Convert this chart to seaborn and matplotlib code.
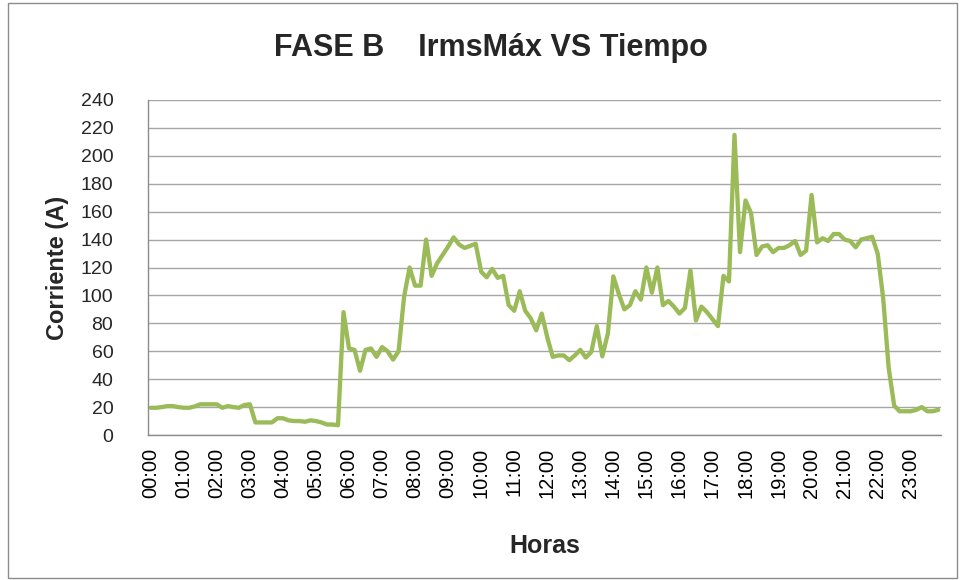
import matplotlib
matplotlib.use("Agg")
import matplotlib.pyplot as plt
from matplotlib.patches import Rectangle
import seaborn as sns
import pandas as pd
import numpy as np

# Irms max of phase B, one reading every 10 minutes (144 per day)
hours = [f"{h:02d}:00" for h in range(24)]
corriente = [
    19.5, 19.5, 20, 20.7, 20.7, 20,
    19.5, 19.5, 20.5, 22, 22, 22,
    22, 19.5, 20.7, 20, 19.5, 21.5,
    22, 9, 9, 9, 9, 12,
    12, 10.5, 10, 10, 9.5, 10.5,
    10, 9, 7.5, 7.5, 7, 88,
    62, 61, 46, 61, 62, 56,
    63, 60, 54, 60, 99, 120,
    107, 107, 140, 114, 123, 129,
    135, 141.6, 136.4, 134, 135.5, 137,
    117, 113, 119, 112.6, 114, 93,
    89, 103, 89, 83.6, 75, 87,
    70, 56, 57, 57, 53.6, 57,
    61, 55.5, 59.5, 78, 56.4, 72.6,
    113.6, 101, 90, 93, 103, 97,
    120, 102, 120, 93, 96, 92,
    87, 91, 118, 82, 92, 88,
    83, 78, 114, 110, 215, 131,
    168, 159, 129, 135, 136, 131,
    134, 134, 136, 139, 129, 132,
    172, 138, 141, 139, 144, 144,
    140, 139, 134.5, 140, 141, 142,
    130, 98, 48, 21, 17, 17,
    17, 18, 20, 17, 17, 18,
]

df = pd.DataFrame({"idx": np.arange(len(corriente)), "Corriente": corriente})

sns.set_theme(style="white")
plt.rcParams["font.family"] = ["Liberation Sans", "DejaVu Sans"]

fig = plt.figure(figsize=(9.61, 5.80), dpi=100)
ax = fig.add_axes([148 / 961, 1 - 435 / 580, 793 / 961, 335 / 580])

sns.lineplot(data=df, x="idx", y="Corriente", ax=ax, color="#9BBB59", linewidth=3.1)

ax.set_xlim(-0.5, len(corriente) - 0.5)
ax.set_ylim(0, 240)
ax.set_yticks(range(0, 241, 20))
ax.yaxis.grid(True, color="#A6A6A6", linewidth=1)
ax.set_axisbelow(True)

ax.set_xticks(np.arange(0, 144, 6))
ax.set_xticklabels(hours, rotation=90)
ax.set_xticks(np.arange(-0.5, 144, 1), minor=True)
ax.tick_params(axis="x", which="major", length=0, labelsize=14.5, pad=9, colors="black")
ax.tick_params(axis="x", which="minor", length=5, width=0.8, color="#8C8C8C", direction="out")
ax.tick_params(axis="y", length=5, width=0.8, color="#8C8C8C", labelsize=14, direction="out", pad=20)

for s in ["top", "right"]:
    ax.spines[s].set_visible(False)
for s in ["left", "bottom"]:
    ax.spines[s].set_color("#8C8C8C")
    ax.spines[s].set_linewidth(1)

ax.set_xlabel("Horas", fontsize=18, fontweight="bold", labelpad=26)
ax.set_ylabel("Corriente (A)", fontsize=17, fontweight="bold", labelpad=8)

fig.text(0.511, 0.917, "FASE B    IrmsMáx VS Tiempo", ha="center", va="center",
         fontsize=22, fontweight="bold")

fig.patches.append(Rectangle((8 / 961, 2 / 580), 949 / 961, 575 / 580, transform=fig.transFigure,
                             fill=False, edgecolor="#8C8C8C", linewidth=1))

fig.savefig("out.png", dpi=100)
